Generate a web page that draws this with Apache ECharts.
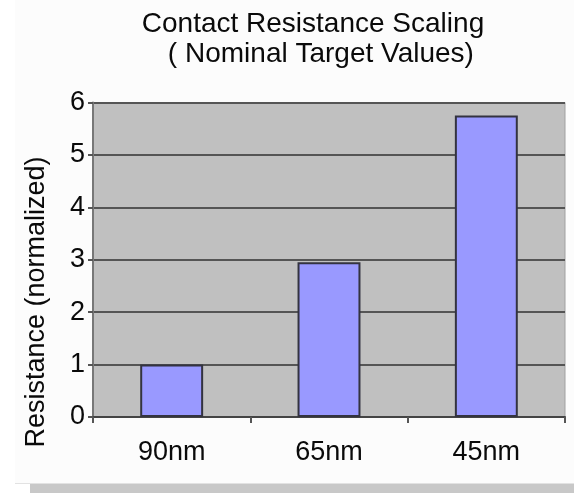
<!DOCTYPE html>
<html>
<head>
<meta charset="utf-8">
<script src="https://cdn.jsdelivr.net/npm/echarts@6/dist/echarts.min.js"></script>
<style>
  html, body { margin: 0; padding: 0; background: #ffffff; }
  #chart { width: 574px; height: 493px; }
</style>
</head>
<body>
<div id="chart"></div>
<script>
// Node generations and their nominal contact resistance (normalized to 90nm)
const categories = ['90nm', '65nm', '45nm'];
const resistance = [1.0, 2.95, 5.75];
const yTicks = [0, 1, 2, 3, 4, 5, 6];

const titleLines = ['Contact Resistance Scaling', ' ( Nominal Target Values)'];
const yAxisTitle = 'Resistance (normalized)';

const chart = echarts.init(document.getElementById('chart'), null, { renderer: 'canvas' });

const FONT = 'Liberation Sans, Arial, sans-serif';

chart.setOption({
  animation: false,
  backgroundColor: '#ffffff',
  graphic: [
    {
      type: 'rect',
      silent: true,
      z: -10,
      shape: { x: 15, y: 0, width: 559, height: 483 },
      style: { fill: '#fcfcfc' }
    },
    {
      type: 'rect',
      silent: true,
      shape: { x: 15, y: 483, width: 559, height: 1 },
      style: { fill: '#e2e2e2' }
    },
    {
      type: 'rect',
      silent: true,
      shape: { x: 30, y: 484, width: 544, height: 9 },
      style: { fill: '#c8c8c8' }
    },
    // two-line chart heading
    {
      type: 'text',
      silent: true,
      x: 313,
      y: 24,
      style: {
        text: titleLines[0],
        fontFamily: FONT,
        fontSize: 28,
        fill: '#0a0a0a',
        align: 'center',
        verticalAlign: 'middle'
      }
    },
    {
      type: 'text',
      silent: true,
      x: 317,
      y: 54,
      style: {
        text: titleLines[1],
        fontFamily: FONT,
        fontSize: 28,
        fill: '#0a0a0a',
        align: 'center',
        verticalAlign: 'middle'
      }
    },
    {
      type: 'text',
      silent: true,
      x: 37,
      y: 302,
      rotation: Math.PI / 2,
      style: {
        text: yAxisTitle,
        fontFamily: FONT,
        fontSize: 27,
        fill: '#0a0a0a',
        align: 'center',
        verticalAlign: 'middle'
      }
    }
  ],
  grid: {
    left: 93,
    top: 102.5,
    right: 9,
    bottom: 76,
    show: true,
    backgroundColor: '#c0c0c0',
    borderColor: '#a0a0a0',
    borderWidth: 1
  },
  xAxis: {
    type: 'category',
    data: categories,
    axisLine: { show: true, lineStyle: { color: '#444444', width: 2 } },
    axisTick: { show: true, length: 6, alignWithLabel: false, lineStyle: { color: '#555555', width: 2 } },
    axisLabel: {
      margin: 22,
      fontFamily: FONT,
      fontSize: 27,
      color: '#0a0a0a'
    },
    splitLine: { show: false }
  },
  yAxis: {
    type: 'value',
    min: yTicks[0],
    max: yTicks[yTicks.length - 1],
    interval: 1,
    axisLine: { show: true, lineStyle: { color: '#777777', width: 2 } },
    axisTick: { show: true, length: 5, lineStyle: { color: '#555555', width: 2 } },
    axisLabel: {
      margin: 8,
      fontFamily: FONT,
      fontSize: 27,
      color: '#0a0a0a'
    },
    splitLine: { show: true, lineStyle: { color: '#555555', width: 2 } }
  },
  series: [
    {
      type: 'bar',
      data: resistance,
      barWidth: '40%',
      itemStyle: {
        color: '#9999ff',
        borderColor: '#333340',
        borderWidth: 2
      }
    }
  ]
});
</script>
</body>
</html>
